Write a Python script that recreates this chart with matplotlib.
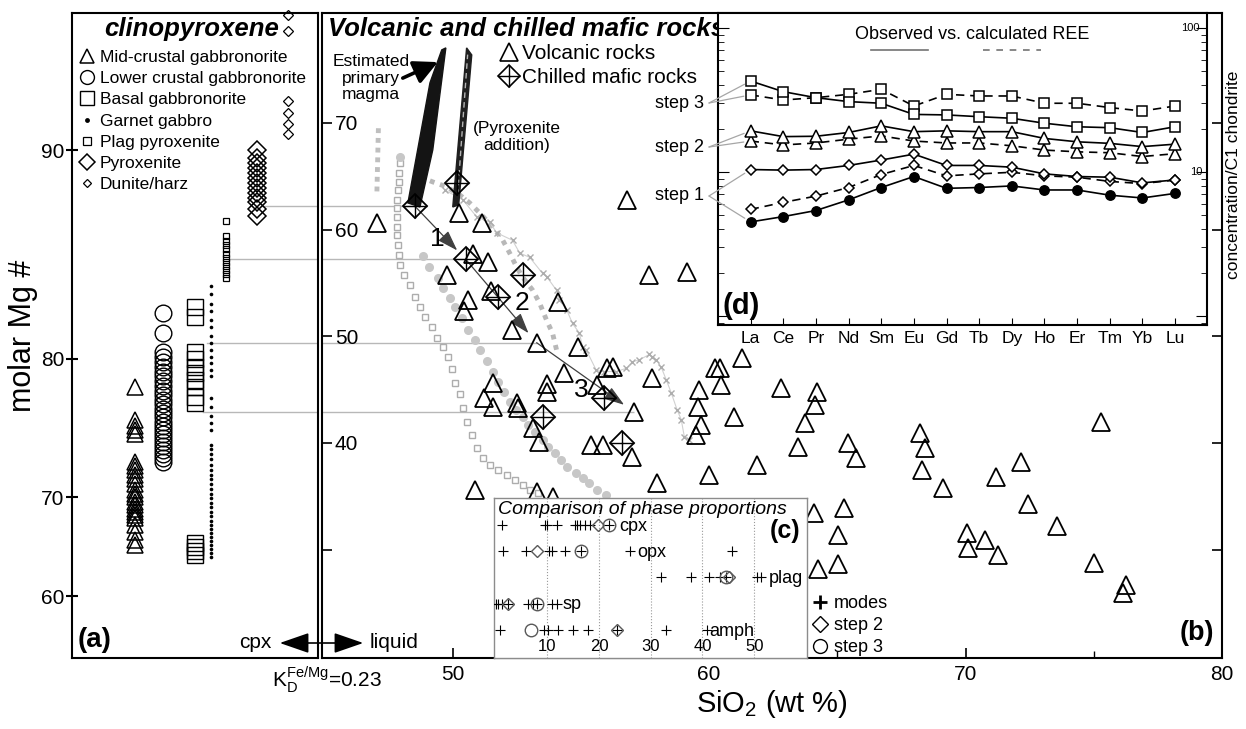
import numpy as np
import matplotlib
matplotlib.use("Agg")
import matplotlib.pyplot as plt
from matplotlib.lines import Line2D
from matplotlib.patches import FancyArrowPatch
from matplotlib.legend_handler import HandlerTuple
import matplotlib.transforms as mtrans

plt.rcParams['font.family'] = ['Liberation Sans', 'DejaVu Sans']
plt.rcParams['mathtext.fontset'] = 'custom'
plt.rcParams['mathtext.rm'] = 'Liberation Sans'
plt.rcParams['mathtext.it'] = 'Liberation Sans:italic'

W, H = 1246, 729
KD = 0.23

# ---------------- panel (a): clinopyroxene Mg#
a_labels = ['Mid-crustal gabbronorite', 'Lower crustal gabbronorite', 'Basal gabbronorite',
            'Garnet gabbro', 'Plag pyroxenite', 'Pyroxenite', 'Dunite/harz']
cpx_mid = [78.2, 76.0, 75.6, 75.3, 75.0, 72.9, 72.6, 72.3, 71.9, 71.5, 71.1, 70.6, 70.3, 70.0,
           69.6, 69.3, 69.0, 68.7, 68.4, 68.1, 67.5, 66.8, 66.0, 65.5]
cpx_lower = [82.6, 81.5, 80.4, 80.1, 79.8, 79.5, 79.2, 78.9, 78.6, 78.3, 78.0, 77.7, 77.4, 77.1,
             76.8, 76.5, 76.2, 75.9, 75.6, 75.3, 75.0, 74.7, 74.4, 74.1, 73.8, 73.5, 73.2, 72.9]
cpx_basal = [82.9, 82.4, 80.4, 80.0, 79.5, 79.1, 78.7, 78.2, 77.6, 77.2, 65.7, 65.3, 64.9, 64.5]
cpx_garnet = [84.0, 83.6, 83.1, 82.7, 82.2, 81.8, 81.3, 80.9, 80.5, 80.1, 79.7, 79.3, 78.9, 77.5,
              76.9, 76.3, 75.8, 75.3, 74.2, 73.9, 73.5, 73.1, 72.7, 72.3, 71.9, 71.5, 71.1, 70.7,
              70.3, 69.9, 69.5, 69.1, 68.7, 68.3, 67.9, 67.5, 67.1, 66.7, 66.3, 65.9, 65.5, 65.1,
              64.7, 64.3]
cpx_plagpx = [87.1, 86.4, 86.2, 86.0, 85.8, 85.6, 85.4, 85.2, 85.0, 84.8, 84.6, 84.4]
cpx_pyrox = [90.0, 89.7, 89.5, 89.3, 89.1, 88.9, 88.7, 88.5, 88.3, 88.1, 87.9, 87.6, 87.3]
cpx_dunite = [94.6, 94.1, 91.8, 91.4, 91.0, 90.6]
a_yticks = [60, 70, 80, 90]

# ---------------- panel (b): volcanic and chilled mafic rocks (SiO2 wt%, liquid Mg#)
tri_sio2 = [47.04, 50.23, 51.13, 56.81, 50.78, 51.36, 49.77, 50.58, 50.43, 51.48,
            54.09, 52.30, 53.27, 54.90, 57.67, 59.14, 54.32, 56.03, 56.23, 57.78,
            55.64, 53.66, 53.66, 57.08, 51.56, 51.21, 51.56, 52.49, 52.53, 53.11,
            53.35, 55.41, 55.84, 57.00, 57.98, 50.86, 53.27, 53.89, 60.23, 60.43,
            60.47, 59.61, 59.57, 59.69, 59.49, 61.28, 60.97, 60.00, 61.87, 62.80,
            64.20, 64.12, 63.74, 63.46, 65.41, 65.72, 68.21, 68.40, 68.29, 69.11,
            71.17, 72.18, 72.45, 64.09, 65.25, 65.02, 64.24, 65.02, 70.04, 70.08,
            70.74, 71.28, 73.58, 75.02, 75.29, 76.26, 76.15]
tri_mg = [60.6, 61.6, 60.6, 62.8, 57.7, 57.0, 55.75, 53.4, 52.4, 54.2,
          53.2, 50.6, 49.4, 49.0, 55.75, 56.0, 46.6, 47.0, 47.1, 46.1,
          45.4, 45.5, 44.8, 42.9, 45.6, 44.2, 43.4, 43.75, 43.3, 41.4,
          40.1, 39.8, 39.8, 38.7, 36.25, 35.6, 35.4, 34.9, 47.0, 47.0,
          45.4, 45.0, 43.4, 41.7, 40.75, 48.0, 42.4, 37.0, 37.9, 45.2,
          44.8, 43.6, 41.9, 39.6, 40.0, 38.6, 40.9, 39.5, 37.5, 35.8,
          36.8, 38.2, 34.3, 33.4, 33.9, 31.4, 28.2, 28.7, 31.6, 30.2,
          30.9, 29.5, 32.2, 28.8, 42.0, 26.7, 25.9]
chill_sio2 = [48.52, 50.16, 50.51, 52.72, 51.75, 55.91, 53.50, 56.61]
chill_mg = [62.2, 64.4, 57.2, 55.75, 53.7, 44.2, 42.4, 40.0]
step_sio2 = [48.52, 50.51, 53.27, 57.08]
step_mg = [62.2, 57.2, 49.4, 42.9]
step_names = ['1', '2', '3']

# grey model trends
sq_sio2 = [47.94, 47.90, 47.90, 47.86, 47.82, 47.82, 47.82, 47.82, 47.82, 47.86, 47.90, 47.94,
           48.09, 48.33, 48.52, 48.72, 48.91, 49.18, 49.38, 49.61, 49.81, 49.96, 50.08, 50.27,
           50.39, 50.54, 50.74, 50.93, 51.17, 51.44, 51.75, 52.10, 52.41, 52.72, 53.00, 53.31]
sq_mg = [66.25, 65.3, 64.5, 63.7, 62.8, 62.0, 61.2, 60.25, 59.5, 58.6, 57.6, 56.7,
         55.75, 54.8, 53.7, 52.7, 51.8, 50.9, 49.8, 49.0, 48.1, 46.9, 45.6, 44.6,
         43.3, 42.0, 40.75, 39.5, 38.6, 37.9, 37.5, 37.0, 36.5, 36.1, 35.6, 35.3]
ci_sio2 = [47.94, 48.83, 49.07, 49.42, 49.61, 49.88, 50.08, 50.35, 50.58, 50.86, 51.05, 51.32,
           51.56, 51.75, 51.98, 52.22, 52.45, 52.72, 52.92, 53.19, 53.50, 53.70, 53.97, 54.24,
           54.47, 54.82, 55.06, 55.33, 55.64, 55.99]
ci_mg = [66.8, 57.5, 56.5, 55.5, 54.5, 53.6, 52.7, 51.7, 50.6, 49.7, 48.7, 47.7,
         46.7, 45.7, 44.8, 43.8, 43.1, 42.4, 41.7, 41.0, 40.3, 39.6, 39.1, 38.4,
         37.75, 37.2, 36.7, 36.25, 35.6, 35.1]
dash_sio2 = [48.72, 49.22, 49.77, 50.27, 50.66, 51.05, 51.56, 51.95, 52.22, 52.49, 52.72,
             53.11, 53.39, 53.66, 53.89, 54.05]
dash_mg = [64.94, 64.47, 64.0, 63.25, 62.5, 61.56, 60.25, 59.0, 57.8, 56.5, 55.56,
           54.34, 53.1, 51.5, 50.3, 48.7]
x_sio2 = [49.69, 50.39, 50.93, 51.44, 51.71, 52.33, 52.61, 53.00, 53.50, 53.66, 54.05, 54.16,
          54.44, 54.67, 54.94, 55.06, 55.21, 55.60, 55.91, 56.38, 56.77, 57.00, 57.28, 57.67,
          57.78, 57.94, 58.13, 58.33, 58.52, 58.75, 58.91, 59.03, 59.22]
x_mg = [63.7, 62.8, 61.2, 60.7, 59.7, 59.0, 57.8, 57.4, 55.9, 55.6, 54.3, 53.4,
        52.5, 51.2, 50.3, 49.0, 48.7, 46.8, 46.7, 46.7, 47.0, 47.6, 47.8, 48.3,
        48.1, 47.8, 47.1, 45.9, 44.7, 43.1, 42.2, 40.6, 40.3]
seg_sio2 = [47.10, 47.04]
seg_mg = [69.5, 63.4]
bundle1_sio2 = [48.25, 49.11, 49.57, 49.73, 49.22, 48.72]
bundle1_mg = [62.5, 73.75, 76.84, 77.03, 67.47, 62.12]
bundle2_sio2 = [50.00, 50.54, 50.74, 50.23]
bundle2_mg = [62.12, 77.03, 76.37, 62.31]
bundle2_mid_sio2 = [50.19, 50.58]
bundle2_mid_mg = [63.25, 76.4]

# ---------------- inset (c): phase proportions (%)
phases = ['cpx', 'opx', 'plag', 'sp', 'amph']
modes = [[1.3, 9.6, 10.0, 11.9, 15.4, 15.8, 16.3, 17.3, 18.3, 21.9],
         [1.5, 5.8, 10.4, 11.0, 13.5, 16.6, 26.0, 45.7],
         [32.0, 37.8, 41.2, 43.3, 44.6, 50.6, 51.3],
         [0.0, 0.5, 1.2, 2.5, 6.3, 7.3, 8.1, 11.0, 11.9],
         [0.8, 9.4, 10.2, 12.1, 15.0, 17.9, 23.5, 33.0, 40.8]]
step2_prop = [19.8, 8.1, 45.1, 2.5, 23.5]
step3_prop = [21.9, 16.6, 44.6, 8.1, 6.9]
phase_label_x = [24.0, 27.3, 52.9, 12.9, 41.3]

# ---------------- inset (d): REE patterns
ree = ['La', 'Ce', 'Pr', 'Nd', 'Sm', 'Eu', 'Gd', 'Tb', 'Dy', 'Ho', 'Er', 'Tm', 'Yb', 'Lu']
ree_obs3 = [42.8, 36.1, 32.8, 30.8, 30.0, 25.1, 24.9, 24.2, 23.6, 21.8, 20.6, 20.3, 18.8, 20.6]
ree_calc3 = [34.3, 31.6, 32.8, 34.6, 37.5, 28.7, 34.6, 33.7, 33.7, 30.0, 30.0, 28.0, 26.5, 28.7]
ree_obs2 = [19.3, 17.6, 17.7, 18.8, 20.9, 19.05, 19.3, 19.05, 19.05, 17.1, 16.2, 15.8, 15.0, 15.6]
ree_calc2 = [16.4, 15.4, 15.9, 16.9, 17.8, 16.4, 15.9, 15.9, 15.2, 14.2, 13.8, 13.6, 12.8, 13.4]
ree_obs1 = [10.4, 10.3, 10.4, 11.1, 12.1, 13.3, 11.1, 11.1, 10.8, 9.7, 9.3, 9.2, 8.4, 8.8]
ree_calc1 = [5.5, 6.15, 6.8, 7.8, 9.6, 11.1, 9.4, 9.7, 9.95, 9.4, 9.2, 8.6, 8.3, 8.8]
ree_prim = [4.5, 4.9, 5.4, 6.4, 7.8, 9.3, 7.7, 7.8, 8.0, 7.5, 7.5, 6.9, 6.6, 7.1]


def cpx_to_liq(c):
    c = np.clip(np.asarray(c, dtype=float), 1e-3, 99.999)
    return 100.0 / (1.0 + (100.0 - c) / (KD * c))


def liq_to_cpx(l):
    l = np.clip(np.asarray(l, dtype=float), 1e-3, 99.999)
    return 100.0 / (1.0 + KD * (100.0 - l) / l)


def rect(x0, y0, x1, y1):
    return [x0 / W, 1 - y1 / H, (x1 - x0) / W, (y1 - y0) / H]


def fp(x, y):
    return (x / W, 1 - y / H)


LIQ_LIM = (19.85, 80.3)

fig = plt.figure(figsize=(W / 100, H / 100), dpi=100)
fig.patch.set_facecolor('white')

ax_a = fig.add_axes(rect(72, 13, 318, 658))
ax_b = fig.add_axes(rect(322, 13, 1222, 658))
ax_c = fig.add_axes(rect(494, 498, 807, 658))
ax_d = fig.add_axes(rect(718, 13, 1207, 325))

# ---------------- panel (a)
ax_a.set_yscale('function', functions=(cpx_to_liq, liq_to_cpx))
ax_a.set_ylim(float(liq_to_cpx(LIQ_LIM[0])), float(liq_to_cpx(LIQ_LIM[1])))
ax_a.set_xlim(0, 1)
a_cols = [0.256, 0.37, 0.5, 0.565, 0.626, 0.752, 0.878]
a_styles = [dict(marker='^', ms=12, mfc='none', mec='k', mew=1.1),
            dict(marker='o', ms=12, mfc='none', mec='k', mew=1.0),
            dict(marker='s', ms=12, mfc='none', mec='k', mew=1.0),
            dict(marker='o', ms=2.6, mfc='k', mec='k', mew=0),
            dict(marker='s', ms=5, mfc='none', mec='k', mew=0.9),
            dict(marker='D', ms=9.2, mfc='none', mec='k', mew=1.1),
            dict(marker='D', ms=5, mfc='none', mec='k', mew=0.9)]
a_data = [cpx_mid, cpx_lower, cpx_basal, cpx_garnet, cpx_plagpx, cpx_pyrox, cpx_dunite]
for xc, vals, st in zip(a_cols, a_data, a_styles):
    ax_a.plot([xc] * len(vals), vals, ls='none', clip_on=False, zorder=3, **st)

leg_sizes = [10, 10, 9.5, 3.5, 5.5, 8.5, 4.5]
handles_a = []
for st, s in zip(a_styles, leg_sizes):
    d = dict(st)
    d['ms'] = s
    handles_a.append(Line2D([], [], ls='none', **d))
ax_a.legend(handles_a, a_labels, loc='upper left', bbox_to_anchor=fp(80, 50),
            bbox_transform=fig.transFigure, frameon=False, fontsize=12.5,
            handlelength=0.85, handletextpad=0.3, labelspacing=0.345,
            borderpad=0, borderaxespad=0)

ax_a.set_yticks(a_yticks)
ax_a.set_yticklabels([str(v) for v in a_yticks])
ax_a.yaxis.set_minor_locator(matplotlib.ticker.NullLocator())
ax_a.tick_params(axis='y', direction='inout', length=9, width=1.5, labelsize=15, pad=1)
ax_a.set_xticks([])
for s in ax_a.spines.values():
    s.set_linewidth(1.5)
ax_a.set_ylabel('molar Mg #', fontsize=22, labelpad=2)

# horizontal connectors (step Mg# levels) across panels
conn_start = [0.772, 0.642, 0.549, 0.533]
for k, (lv, x0) in enumerate(zip(step_mg, conn_start)):
    ax_a.axhline(float(liq_to_cpx(lv)), xmin=x0, xmax=1, color='0.72', lw=1.0, zorder=1)
    ax_b.hlines(lv, 44.9, step_sio2[k], color='0.72', lw=1.0, zorder=1)

fig.text(*fp(78, 640), '(a)', fontsize=20, fontweight='bold', ha='left', va='center')
fig.text(*fp(104, 29), 'clinopyroxene', fontsize=18.5, fontweight='bold', style='italic',
         ha='left', va='center')

# ---------------- panel (b)
ax_b.set_xlim(44.9, 80)
ax_b.set_ylim(*LIQ_LIM)
ax_b.plot(seg_sio2, seg_mg, color='0.75', lw=3.5, dashes=(1.0, 1.0), zorder=1.5)
ax_b.plot(sq_sio2, sq_mg, ls='none', marker='s', ms=4.3, mfc='white', mec='0.68', mew=1.0,
          zorder=1.6)
ax_b.plot(ci_sio2, ci_mg, ls='none', marker='o', ms=5.5, mfc='0.78', mec='0.78', zorder=1.6)
ax_b.plot(dash_sio2, dash_mg, color='0.72', lw=3.5, dashes=(1.0, 1.2), zorder=1.6)
ax_b.plot(x_sio2, x_mg, color='0.82', lw=0.8, marker='x', ms=4.5, mew=1.0, mec='0.68',
          zorder=1.6)
ax_b.fill(bundle1_sio2, bundle1_mg, color='0.08', zorder=2)
ax_b.fill(bundle2_sio2, bundle2_mg, color='0.12', zorder=2)
ax_b.plot(bundle2_mid_sio2, bundle2_mid_mg, color='0.7', lw=1.0, dashes=(4, 3), zorder=2.1)

for i in range(3):
    ax_b.annotate('', xy=(step_sio2[i + 1], step_mg[i + 1]), xytext=(step_sio2[i], step_mg[i]),
                  arrowprops=dict(arrowstyle='-|>,head_length=0.9,head_width=0.3',
                                  color='0.25', lw=0.9, mutation_scale=14, shrinkA=0, shrinkB=9),
                  zorder=2.5)

ax_b.plot(tri_sio2, tri_mg, ls='none', marker='^', ms=13, mfc='none', mec='k', mew=1.3, zorder=3)
ax_b.plot(chill_sio2, chill_mg, ls='none', marker='D', ms=12.5, mfc='none', mec='k', mew=1.3,
          zorder=3)
ax_b.plot(chill_sio2, chill_mg, ls='none', marker='+', ms=17.5, mec='k', mew=1.0, zorder=3)

ax_b.set_xticks([50, 60, 70, 80])
ax_b.set_xticks([55, 65, 75], minor=True)
ax_b.set_yticks([30, 40, 50, 60, 70])
ax_b.set_yticklabels(['', '40', '50', '60', '70'])
ax_b.yaxis.set_minor_locator(matplotlib.ticker.NullLocator())
ax_b.tick_params(axis='x', which='major', direction='in', length=7, width=1.2, labelsize=15,
                 pad=5, top=False)
ax_b.tick_params(axis='x', which='minor', direction='in', length=5, width=1.0, top=False)
ax_b.tick_params(axis='y', direction='in', length=7, width=1.2, labelsize=15, pad=-26,
                 left=True, right=True)
for s in ax_b.spines.values():
    s.set_linewidth(1.5)
ax_b.set_xlabel('SiO$_2$ (wt %)', fontsize=21, labelpad=3)

tri_h = Line2D([], [], ls='none', marker='^', ms=13, mfc='none', mec='k', mew=1.2)
dia_h = Line2D([], [], ls='none', marker='D', ms=11.5, mfc='none', mec='k', mew=1.2)
plus_h = Line2D([], [], ls='none', marker='+', ms=16, mec='k', mew=1.0)
ax_b.legend([tri_h, (dia_h, plus_h)], ['Volcanic rocks', 'Chilled mafic rocks'],
            handler_map={tuple: HandlerTuple(ndivide=1)}, loc='upper left',
            bbox_to_anchor=fp(499, 44), bbox_transform=fig.transFigure, frameon=False,
            fontsize=15, handlelength=1.0, handletextpad=0.12, labelspacing=0.25,
            borderpad=0, borderaxespad=0)

# title belongs to panel (b) so that the REE inset covers its end, as in the figure
ax_b.text(*fp(328, 29), 'Volcanic and chilled mafic rocks', transform=fig.transFigure,
          fontsize=18.5, fontweight='bold', style='italic', ha='left', va='center', zorder=5)
fig.text(*fp(371, 78), 'Estimated\nprimary\nmagma', fontsize=12.5, ha='center', va='center',
         linespacing=1.1)
fig.text(*fp(517, 137), '(Pyroxenite\naddition)', fontsize=12.5, ha='center', va='center',
         linespacing=1.1)
ax_b.annotate('', xy=(49.42, 75.7), xytext=(48.05, 74.2),
              arrowprops=dict(arrowstyle='-|>,head_length=0.9,head_width=0.45', color='k',
                              lw=2.6, mutation_scale=16, shrinkA=0, shrinkB=0), zorder=4)
for name, (px, py) in zip(step_names, [(437, 239), (522, 303), (581, 390)]):
    fig.text(*fp(px, py), name, fontsize=19, ha='center', va='center')
fig.text(*fp(1214, 633), '(b)', fontsize=19.5, fontweight='bold', ha='right', va='center')

# cpx <-> liquid, KD
fig.add_artist(FancyArrowPatch(fp(277, 643), fp(366, 643), transform=fig.transFigure,
                               arrowstyle='<|-|>,head_length=1.3,head_width=0.45',
                               mutation_scale=14, color='k', lw=1.2))
fig.text(*fp(271, 643), 'cpx', fontsize=15, ha='right', va='center')
fig.text(*fp(370, 643), 'liquid', fontsize=15, ha='left', va='center')
fig.text(*fp(272, 680), r'$\mathregular{K_D^{Fe/Mg}}$=0.23', fontsize=15, ha='left',
         va='center')

# ---------------- inset (c)
ax_c.set_facecolor('white')
ax_c.set_xlim(-0.3, 60.2)
ax_c.set_ylim(5.08, -1.04)
for i, ph in enumerate(phases):
    ax_c.plot(modes[i], [i] * len(modes[i]), ls='none', marker='+', ms=7, mec='k', mew=0.8,
              zorder=3)
    ax_c.plot([step2_prop[i]], [i], ls='none', marker='D', ms=6.6, mfc='none', mec='0.35',
              mew=1.0, zorder=3)
    ax_c.plot([step3_prop[i]], [i], ls='none', marker='o', ms=9, mfc='none', mec='0.35',
              mew=1.0, zorder=3)
    ax_c.text(phase_label_x[i], i + 0.05, ph, fontsize=13, ha='left', va='center')
ax_c.set_xticks([10, 20, 30, 40, 50])
ax_c.set_yticks([])
ax_c.tick_params(axis='x', length=0, pad=-14, labelsize=12)
ax_c.grid(axis='x', ls=':', color='0.6', lw=0.8)
for s in ax_c.spines.values():
    s.set_color('0.55')
    s.set_linewidth(1.0)
ax_c.text(0.013, 0.93, 'Comparison of phase proportions', transform=ax_c.transAxes,
          fontsize=14, style='italic', ha='left', va='center')
ax_c.text(0.978, 0.794, '(c)', transform=ax_c.transAxes, fontsize=18, fontweight='bold',
          ha='right', va='center')
h_mode = Line2D([], [], ls='none', marker='+', ms=10, mec='k', mew=2.0)
h_s2 = Line2D([], [], ls='none', marker='D', ms=8, mfc='none', mec='k', mew=1.0)
h_s3 = Line2D([], [], ls='none', marker='o', ms=10, mfc='none', mec='k', mew=1.0)
fig.legend([h_mode, h_s2, h_s3], ['modes', 'step 2', 'step 3'], loc='upper left',
           bbox_to_anchor=fp(811, 595), frameon=False, fontsize=13, handlelength=1.0,
           handletextpad=0.25, labelspacing=0.29, borderpad=0, borderaxespad=0)

# ---------------- inset (d)
ax_d.set_facecolor('white')
xr = np.arange(len(ree))
ax_d.set_yscale('log')
ax_d.set_xlim(-1, 13.98)
ax_d.set_ylim(0.866, 127)
dash = (5, 3.5)
ax_d.plot(xr, ree_calc3, color='k', lw=1.2, dashes=dash, marker='s', ms=7, mfc='white', mec='k',
          mew=1.1, zorder=3)
ax_d.plot(xr, ree_obs3, color='k', lw=1.2, marker='s', ms=7.5, mfc='white', mec='k', mew=1.1,
          zorder=3)
ax_d.plot(xr, ree_calc2, color='k', lw=1.2, dashes=dash, marker='^', ms=8, mfc='white', mec='k',
          mew=1.1, zorder=3)
ax_d.plot(xr, ree_obs2, color='k', lw=1.2, marker='^', ms=8, mfc='white', mec='k', mew=1.1,
          zorder=3)
ax_d.plot(xr, ree_calc1, color='k', lw=1.2, dashes=dash, marker='D', ms=5, mfc='white', mec='k',
          mew=1.1, zorder=3)
ax_d.plot(xr, ree_obs1, color='k', lw=1.2, marker='D', ms=5.5, mfc='white', mec='k', mew=1.1,
          zorder=3)
ax_d.plot(xr, ree_prim, color='k', lw=1.2, marker='o', ms=6.8, mfc='k', mec='k', zorder=3)
ax_d.set_xticks(xr)
ax_d.set_xticklabels(ree)
ax_d.tick_params(axis='x', direction='in', length=5, labelsize=12.5, pad=4, top=False)
ax_d.tick_params(axis='y', which='both', direction='in', left=True, right=True,
                 labelleft=False, labelright=False)
ax_d.tick_params(axis='y', which='major', length=8)
ax_d.tick_params(axis='y', which='minor', length=4)
for s in ax_d.spines.values():
    s.set_linewidth(1.5)
yt = mtrans.blended_transform_factory(ax_d.transAxes, ax_d.transData)
ax_d.text(0.985, 100, '100', transform=yt, fontsize=8, ha='right', va='center')
ax_d.text(0.99, 10, '10', transform=yt, fontsize=8, ha='right', va='center')
ax_d.text(0.52, 0.93, 'Observed vs. calculated REE', transform=ax_d.transAxes, fontsize=13,
          ha='center', va='center')
ax_d.plot([0.312, 0.43], [0.881, 0.881], transform=ax_d.transAxes, color='0.45', lw=1.2)
ax_d.plot([0.541, 0.66], [0.881, 0.881], transform=ax_d.transAxes, color='0.45', lw=1.2,
          dashes=(4, 4))
ax_d.text(0.01, 0.06, '(d)', transform=ax_d.transAxes, fontsize=21, fontweight='bold',
          ha='left', va='center')
fig.text(*fp(1234, 175), 'concentration/C1 chondrite', rotation=90, fontsize=12.5,
         ha='center', va='center')

# step labels and fan lines into the REE inset
step_lab = [('step 3', 103, ree_obs3[0], ree_calc3[0]),
            ('step 2', 147, ree_obs2[0], ree_calc2[0]),
            ('step 1', 196, ree_obs1[0], ree_prim[0])]
for lab, py, v1, v2 in step_lab:
    fig.text(*fp(704, py), lab, fontsize=13, ha='right', va='center')
    for v in (v1, v2):
        ax_d.annotate('', xy=(0, v), xycoords='data', xytext=(709, H - py),
                      textcoords='figure pixels', annotation_clip=False,
                      arrowprops=dict(arrowstyle='-', color='0.65', lw=0.9,
                                      shrinkA=0, shrinkB=5))

fig.savefig('out.png', dpi=100, facecolor='white')
